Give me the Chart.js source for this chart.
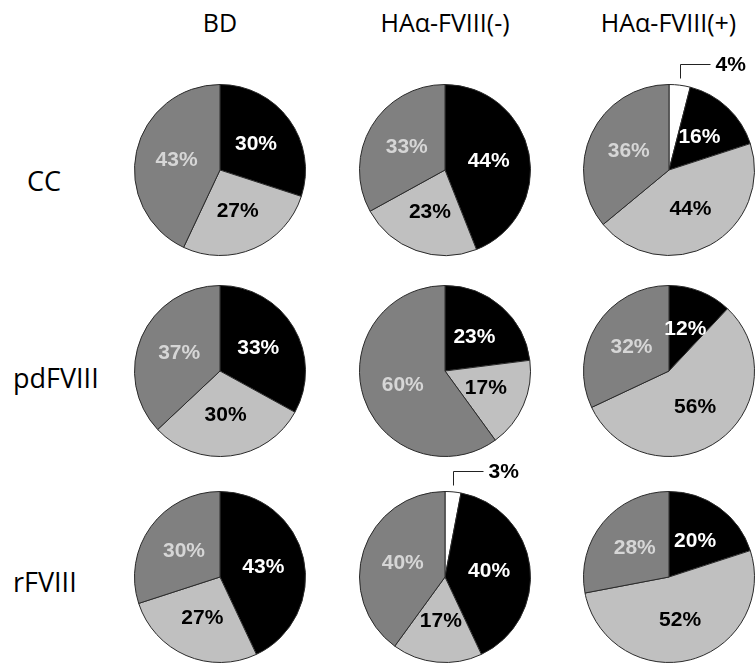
<!DOCTYPE html>
<html>
<head>
<meta charset="utf-8">
<script src="https://cdn.jsdelivr.net/npm/chart.js@4"></script>
<style>
  html, body { margin: 0; padding: 0; background: #fff; overflow: hidden; width: 755px; height: 666px; }
  canvas.pie { position: absolute; }
  .cap { position: absolute; font-family: 'Open Sans', sans-serif; color: #000; white-space: nowrap; line-height: 1; }
</style>
</head>
<body>
<script>
// data
const columns = ['BD', 'HAα-FVIII(-)', 'HAα-FVIII(+)'];
const rows = ['CC', 'pdFVIII', 'rFVIII'];
const categories = ['Minor', 'Group 1', 'Group 2', 'Group 3'];
const ccValues = [[0, 30, 27, 43], [0, 44, 23, 33], [4, 16, 44, 36]];
const pdValues = [[0, 33, 30, 37], [0, 23, 17, 60], [0, 12, 56, 32]];
const rValues = [[0, 43, 27, 30], [3, 40, 17, 40], [0, 20, 52, 28]];
const allValues = [ccValues, pdValues, rValues];

// layout / style
const sliceColors = ['#ffffff', '#000000', '#c0c0c0', '#808080'];
const labelColors = ['#000000', '#ffffff', '#000000', '#d6d6d6'];
const colX = [220, 445, 668.5];
const rowY = [170, 371, 577];
const rowLabelX = [27, 13, 13];
const rowBaseline = [191, 388, 592];
const headBaseline = 32;
const size = 240, pad = 34;

function addText(txt, x, baseline, fs, center) {
  const d = document.createElement('div');
  d.className = 'cap';
  d.textContent = txt;
  d.style.fontSize = fs + 'px';
  d.style.top = (baseline - fs * 0.888) + 'px';
  d.style.left = x + 'px';
  if (center) d.style.transform = 'translateX(-50%)';
  document.body.appendChild(d);
}

const pctLabels = {
  id: 'pctLabels',
  afterDatasetsDraw(chart) {
    const ctx = chart.ctx;
    const vals = chart.data.datasets[0].data;
    const meta = chart.getDatasetMeta(0);
    ctx.save();
    ctx.font = 'bold 21px "Liberation Sans", Arial, sans-serif';
    ctx.textBaseline = 'middle';
    meta.data.forEach((arc, i) => {
      if (!vals[i]) return;
      const p = arc.getProps(['x', 'y', 'startAngle', 'endAngle', 'outerRadius'], true);
      const mid = (p.startAngle + p.endAngle) / 2;
      if (i === 0) {
        // small slice gets a callout above the pie
        const lx = Math.round(p.x + Math.cos(mid) * p.outerRadius) + 0.5;
        const top = p.y - p.outerRadius;
        const ly = Math.round(top - 21) + 0.5;
        ctx.strokeStyle = '#222';
        ctx.lineWidth = 1;
        ctx.beginPath();
        ctx.moveTo(lx, top - 6);
        ctx.lineTo(lx, ly);
        ctx.lineTo(lx + 30, ly);
        ctx.stroke();
        ctx.fillStyle = '#000';
        ctx.textAlign = 'left';
        ctx.fillText(vals[i] + '%', lx + 35, ly + 1);
        return;
      }
      const r = p.outerRadius * 0.52;
      ctx.fillStyle = labelColors[i];
      ctx.textAlign = 'center';
      ctx.fillText(vals[i] + '%', p.x + Math.cos(mid) * r, p.y + Math.sin(mid) * r);
    });
    ctx.restore();
  }
};

columns.forEach((c, j) => addText(c, colX[j], headBaseline, 25, true));
rows.forEach((r, i) => addText(r, rowLabelX[i], rowBaseline[i], 27, false));

allValues.forEach((rowVals, i) => {
  rowVals.forEach((vals, j) => {
    const cv = document.createElement('canvas');
    cv.className = 'pie';
    cv.width = size;
    cv.height = size;
    cv.style.left = (colX[j] - size / 2) + 'px';
    cv.style.top = (rowY[i] - size / 2) + 'px';
    document.body.appendChild(cv);
    new Chart(cv, {
      type: 'pie',
      data: {
        labels: categories,
        datasets: [{
          data: vals,
          backgroundColor: sliceColors,
          borderColor: '#2a2a2a',
          borderWidth: 1
        }]
      },
      options: {
        responsive: false,
        animation: false,
        events: [],
        layout: { padding: pad },
        plugins: { legend: { display: false }, tooltip: { enabled: false } }
      },
      plugins: [pctLabels]
    });
  });
});
</script>
</body>
</html>
